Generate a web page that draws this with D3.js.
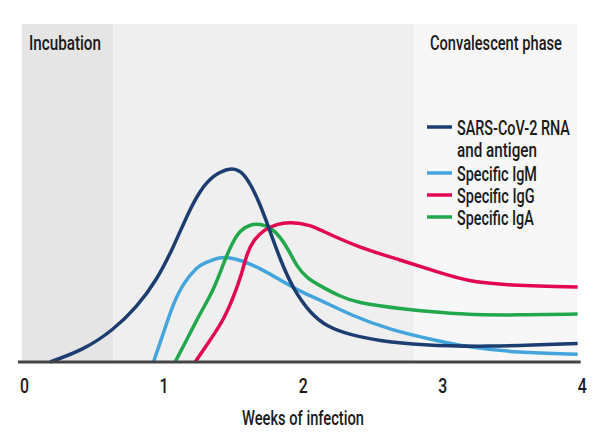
<!DOCTYPE html>
<html>
<head>
<meta charset="utf-8">
<script src="https://cdn.jsdelivr.net/npm/d3@7/dist/d3.min.js"></script>
<style>
  html, body { margin: 0; padding: 0; background: #fff; }
  svg text { font-family: Roboto, "Liberation Sans", sans-serif; fill: #1a1a1a; font-weight: 500; }
</style>
</head>
<body>
<svg id="chart" width="600" height="440"></svg>
<script>
// ---- data (weeks of infection, relative level) ----
const tickValues = [0, 1, 2, 3, 4];
const axisTitle = "Weeks of infection";

const phaseNames = ["Incubation", "", "Convalescent phase"];
const phaseStarts = [-0.015, 0.64, 2.8];
const phaseEnds = [0.64, 2.8, 3.97];

const seriesNames = ["SARS-CoV-2 RNA|and antigen", "Specific IgM", "Specific IgG", "Specific IgA"];

const rnaAntigen = [[0.187,0],[0.426,12],[0.641,32],[0.809,55],[0.953,82],[1.072,115],[1.18,150],[1.264,172],[1.359,187],[1.479,194.7],[1.575,191],[1.683,162],[1.754,135],[1.838,102],[1.934,72],[2.054,48.7],[2.176,35],[2.341,27],[2.557,21],[2.844,17],[3.303,15],[3.971,18.5]];
const igM = [[0.929,0],[1.0,29],[1.072,59],[1.144,79],[1.240,95],[1.293,99],[1.408,105.3],[1.479,104.3],[1.551,102],[1.695,93.7],[1.838,82],[1.982,70.3],[2.126,62],[2.341,47],[2.628,32],[2.937,22],[3.181,15],[3.540,9.3],[3.971,7.7]];
const igG = [[1.228,0],[1.336,22],[1.431,42],[1.503,65],[1.563,88.7],[1.599,108.7],[1.647,122],[1.719,132],[1.814,138],[1.910,140],[2.054,137],[2.126,132],[2.391,115],[2.700,102],[2.987,89],[3.181,81],[3.418,77],[3.971,75]];
const igA = [[1.084,0],[1.192,29],[1.264,48.7],[1.360,72],[1.431,98.7],[1.491,118.7],[1.551,132],[1.623,137.7],[1.695,138],[1.767,134.7],[1.838,125.3],[1.898,112],[1.958,95.3],[2.030,83.7],[2.126,76],[2.260,66],[2.391,59],[2.700,53],[3.181,47],[3.540,47],[3.971,48]];
const seriesData = [rnaAntigen, igM, igG, igA];

// ---- layout / style ----
const seriesColors = ["#1b3d70", "#43a5dc", "#e2074f", "#22a84c"];
const phaseFills = ["#e5e5e5", "#efefef", "#f7f7f7"];
const FS = 20;

const svg = d3.select("#chart");
const x = d3.scaleLinear().domain([0, 4]).range([24, 581.7]);
const y = d3.scaleLinear().domain([0, 338]).range([362, 24]);

// place a text and compress it horizontally to a given width (condensed face emulation)
function label(parent, str, px, py, w, anchor) {
  const t = parent.append("text").attr("font-size", FS)
    .attr("text-anchor", anchor || "start").text(str);
  const len = t.node().getComputedTextLength() || w;
  t.attr("transform", `translate(${px},${py}) scale(${w / len},1)`);
  return t;
}

svg.append("g").selectAll("rect").data(phaseNames).join("rect")
  .attr("x", (d, i) => x(phaseStarts[i])).attr("width", (d, i) => x(phaseEnds[i]) - x(phaseStarts[i]))
  .attr("y", y(338)).attr("height", y(0) - y(338))
  .attr("fill", (d, i) => phaseFills[i]);

label(svg, phaseNames[0], 29, 50, 72);
label(svg, phaseNames[2], 430, 50, 132);

// curves
const line = d3.line().x(d => x(d[0])).y(d => y(d[1])).curve(d3.curveBasis);
const drawOrder = [1, 3, 2, 0];
svg.append("g").selectAll("path").data(drawOrder).join("path")
  .attr("d", i => line(seriesData[i]))
  .attr("fill", "none")
  .attr("stroke", i => seriesColors[i])
  .attr("stroke-width", 3.5);

// axis
svg.append("line")
  .attr("x1", x(0) - 6).attr("x2", x(4) - 1)
  .attr("y1", y(0)).attr("y2", y(0))
  .attr("stroke", "#444").attr("stroke-width", 3);

const ax = svg.append("g").attr("transform", `translate(0,${y(0)})`)
  .call(d3.axisBottom(x).tickValues(tickValues).tickSize(0).tickFormat(d3.format("d")));
ax.select(".domain").remove();
ax.selectAll("text").attr("y", 30.5).attr("dy", null)
  .attr("font-size", 20).style("font-family", "Roboto, sans-serif").attr("fill", "#1a1a1a")
  .attr("textLength", 9).attr("lengthAdjust", "spacingAndGlyphs");

label(svg, axisTitle, 303, 425, 122, "middle");

// legend
const legY = [127, 173, 195, 217];
const legW = [[113, 80], [80], [77.7], [76.7]];
const legend = svg.append("g");
seriesNames.forEach((name, i) => {
  legend.append("line").attr("x1", 427).attr("x2", 452)
    .attr("y1", legY[i]).attr("y2", legY[i])
    .attr("stroke", seriesColors[i]).attr("stroke-width", 3.5);
  name.split("|").forEach((p, j) => {
    label(legend, p, 457, legY[i] + 7.5 + j * 22, legW[i][j]);
  });
});
</script>
</body>
</html>
